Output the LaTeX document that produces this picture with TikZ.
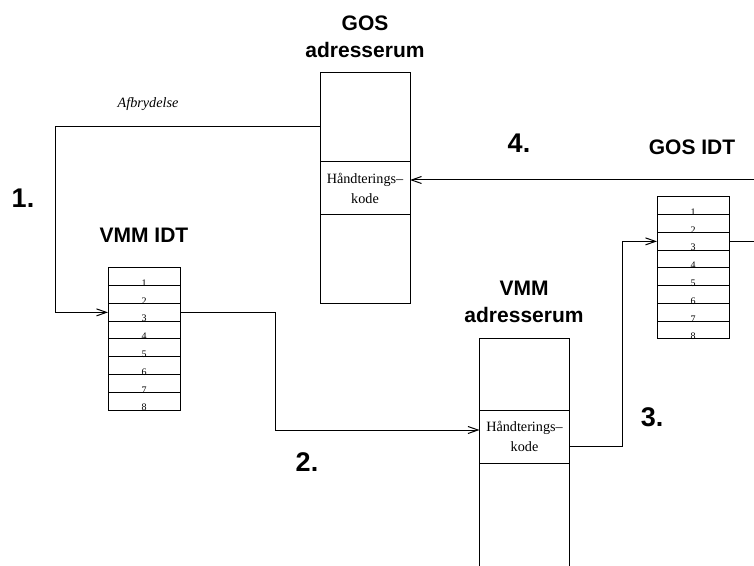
\documentclass[tikz,border=0pt]{standalone}
\usepackage{fontspec}
\setmainfont{Liberation Serif}
\newfontfamily\headfont{Liberation Sans}
\usetikzlibrary{arrows.meta, positioning}

\begin{document}
\begin{tikzpicture}[
    x=0.5pt, y=-0.5pt,
    line width=0.5pt,
    every node/.style={inner sep=0pt, outer sep=0pt},
    head/.style={font=\headfont\bfseries\fontsize{10.5}{13.5}\selectfont, align=center},
    stepno/.style={font=\headfont\bfseries\fontsize{13.5}{15}\selectfont},
    memblock/.style={rectangle, draw, minimum width=45pt},
    handler/.style={memblock, minimum height=26.5pt, font=\fontsize{7.1}{10}\selectfont, align=center},
    idtrow/.style={rectangle, draw, minimum width=36pt, minimum height=8.875pt},
    num/.style={font=\fontsize{5}{5}\selectfont},
    arrow/.style={-{Straight Barb[length=5pt, width=3.5pt]}}
]
\useasboundingbox (0,0) rectangle (754,566);

% adresserum
\node[head] (gostitle) at (365,37) {GOS\\adresserum};
\node[memblock, minimum height=44.5pt] (gtop) at (365,117.5) {};
\node[handler, below=0pt of gtop] (ghand) {Håndterings–\\kode};
\node[memblock, minimum height=44.5pt, below=0pt of ghand] (gbot) {};

\node[head] (vmmtitle) at (524,302) {VMM\\adresserum};
\node[memblock, minimum height=35.5pt] (vtop) at (524.5,374.5) {};
\node[handler, below=0pt of vtop] (vhand) {Håndterings–\\kode};
\node[memblock, minimum height=60pt, below=0pt of vhand] (vbot) {};

% IDT tables
\node[head] (vidttitle) at (144,235) {VMM IDT};
\foreach \i in {1,...,8}
    \node[idtrow, label={[num, anchor=south, yshift=-0.4pt]south:\i}] (vidt\i) at (144,{259.125+\i*17.75}) {};

\node[head] (gidttitle) at (692,147) {GOS IDT};
\foreach \i in {1,...,8}
    \node[idtrow, label={[num, anchor=south, yshift=-0.4pt]south:\i}] (gidt\i) at (693,{188.125+\i*17.75}) {};

% steps
\node[stepno] (step1) at (23,198) {1.};
\node[stepno] (step2) at (307,462) {2.};
\node[stepno] (step3) at (652,417) {3.};
\node[stepno] (step4) at (519,143) {4.};
\node[font=\itshape\fontsize{7.1}{9}\selectfont] (afbr) at (148,104) {Afbrydelse};

\draw[arrow] ([yshift=-4.75pt]gtop.west) -- ++(-265,0) |- (vidt3.west);
\draw[arrow] (vidt3.east) -- ++(95,0) |- ([yshift=3.25pt]vhand.west);
\draw[arrow] ([yshift=-4.75pt]vhand.east) -- ++(53,0) |- (gidt3.west);
\draw[arrow] (gidt3.east) -- ++(40,0) |- ([yshift=4.25pt]ghand.east);

\end{tikzpicture}
\end{document}
